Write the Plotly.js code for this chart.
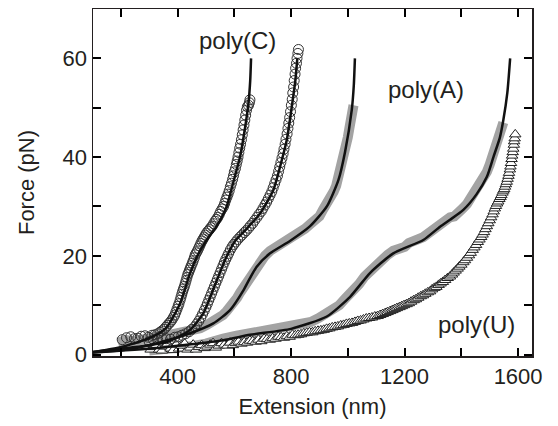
<!DOCTYPE html>
<html>
<head>
<meta charset="utf-8">
<script src="https://cdn.plot.ly/plotly-3.0.1.min.js"></script>
<style>html,body{margin:0;padding:0;background:#fff}#chart{width:558px;height:426px}</style>
</head>
<body>
<div id="chart"></div>
<script>
// ---- poly(C) data (open circles), two molecules ----
const c1X = [205,220,235,248,260,272,285,297,310,320,330,338,345,352,358,364,370,375,380,385,390,394,398,402,405,409,412,415,418,421,424,427,430,433,436,439,442,445,448,452,455,459,462,466,470,474,478,482,486,490,494,498,502,507,512,517,522,527,532,537,542,547,552,557,562,566,570,574,578,582,586,590,594,597,600,604,607,610,613,616,619,622,625,628,631,634,637,640,643,646,650,653,655];
const c1Y = [3.0,3.4,3.6,3.2,3.3,3.7,3.8,3.5,3.9,4.0,4.2,4.5,4.8,5.1,5.5,5.9,6.3,6.6,7.0,7.5,8.0,8.6,9.2,9.8,10.3,11.0,11.6,12.2,12.8,13.3,13.8,14.4,15.0,15.6,16.2,16.6,17.1,17.5,18.0,18.5,19.0,19.6,20.2,20.6,21.0,21.5,22.0,22.5,23.0,23.4,23.8,24.2,24.6,25.0,25.3,25.7,26.0,26.5,27.0,27.4,27.8,28.4,29.0,29.5,30.0,30.6,31.3,31.9,32.5,33.2,34.0,34.7,35.5,36.2,37.0,37.7,38.5,39.2,40.0,40.9,41.8,42.6,43.5,44.5,45.5,46.5,47.5,48.5,49.5,50.2,50.5,51.0,51.6];
const c2X = [300,315,330,345,360,375,390,402,415,428,440,450,460,468,475,482,488,494,500,505,510,515,520,525,530,535,540,545,550,555,560,565,570,575,580,586,592,598,605,612,620,627,635,642,650,657,665,672,680,687,695,701,708,714,720,726,732,737,742,747,752,756,760,764,768,772,775,779,782,786,789,792,795,798,801,804,806,809,811,814,816,819,821,824,826];
const c2Y = [2.6,3.0,3.0,3.3,3.2,3.1,3.5,3.6,3.9,4.2,4.6,5.1,5.6,6.2,6.8,7.5,8.2,8.9,9.6,10.3,11.0,11.7,12.4,13.1,13.8,14.5,15.2,15.9,16.6,17.3,18.0,18.7,19.3,19.9,20.5,21.2,21.8,22.3,22.8,23.3,23.8,24.2,24.7,25.1,25.6,26.1,26.6,27.2,27.8,28.4,29.0,29.6,30.3,30.9,31.6,32.3,33.0,33.8,34.6,35.4,36.2,37.1,38.0,38.9,39.8,40.7,41.6,42.6,43.6,44.7,45.8,46.9,48.0,49.2,50.5,51.7,53.0,54.2,55.5,56.8,58.0,59.0,60.0,61.0,61.8];

// ---- poly(A) data (grey band), two molecules ----
const a1X = [190,220,250,275,300,325,350,375,400,422,444,462,480,503,526,543,560,573,585,598,610,621,632,641,650,658,665,678,690,708,726,743,760,778,796,813,830,849,867,884,900,913,926,938,950,959,967,976,985,993,1000,1006,1012,1016,1020];
const a1Y = [2.4,2.9,2.7,3.1,3.2,3.6,3.7,4.0,3.9,4.3,4.5,4.9,5.3,6.0,6.6,7.4,8.0,8.8,9.5,10.6,11.5,12.6,13.5,14.6,15.5,16.3,17.0,17.8,18.6,20.0,21.0,21.6,22.0,23.0,23.6,24.0,24.3,25.5,26.4,27.0,28.0,29.4,30.5,31.6,33.0,34.2,35.8,37.8,40.0,42.0,44.0,46.0,48.0,49.2,50.5];
const a2X = [300,350,400,450,500,530,561,608,655,693,730,765,800,835,870,898,926,948,970,989,1008,1024,1040,1059,1078,1099,1120,1140,1160,1180,1200,1215,1231,1249,1266,1283,1300,1312,1325,1343,1360,1375,1390,1405,1420,1437,1454,1467,1480,1490,1500,1510,1520,1528,1535,1542,1548];
const a2Y = [0.8,1.0,1.5,1.7,2.2,2.8,3.2,3.8,4.3,4.4,4.8,5.3,5.6,6.0,6.6,7.4,8.2,9.0,10.0,11.2,12.2,13.2,14.3,15.8,17.0,18.0,19.0,20.2,21.0,21.2,21.8,22.6,23.2,23.4,23.8,24.6,25.0,25.8,26.5,27.2,27.8,28.0,28.6,29.6,30.5,32.0,33.5,34.6,35.5,37.0,38.5,40.0,41.5,43.0,44.5,45.8,47.0];

// ---- poly(U) data (open triangles) ----
const uX = [305,315,325,335,345,355,365,375,385,395,405,415,425,435,445,455,465,475,485,495,505,515,525,535,545,555,565,575,585,595,605,615,625,635,645,655,665,675,685,695,705,715,725,735,745,755,765,775,785,795,805,815,825,835,845,855,865,875,885,895,905,915,925,935,945,955,965,975,985,995,1005,1015,1025,1035,1045,1055,1065,1075,1085,1095,1105,1114,1123,1132,1140,1149,1157,1165,1173,1182,1190,1198,1207,1215,1223,1232,1240,1248,1257,1265,1273,1282,1290,1297,1305,1312,1320,1327,1335,1343,1352,1360,1367,1373,1380,1387,1393,1400,1407,1413,1420,1427,1433,1440,1446,1452,1458,1464,1470,1475,1480,1485,1490,1495,1500,1505,1510,1514,1518,1522,1526,1530,1534,1538,1541,1545,1548,1551,1554,1557,1560,1563,1566,1568,1571,1573,1575,1577,1579,1581,1583,1585,1586,1588,1590];
const uY = [1.0,1.5,1.8,1.0,0.8,1.6,2.2,1.2,0.9,2.0,1.2,1.8,2.2,1.0,1.4,2.0,1.0,1.5,1.9,1.3,1.6,2.0,2.3,1.4,1.8,2.3,2.0,1.8,2.4,1.9,2.3,2.6,2.2,2.5,2.4,2.8,2.7,2.6,3.0,2.7,3.2,3.1,3.0,3.3,3.2,3.6,3.5,3.4,3.7,3.6,4.0,3.9,4.0,4.1,4.3,4.4,4.5,4.5,4.7,4.8,4.9,5.0,5.2,5.3,5.5,5.6,5.7,5.9,6.0,6.2,6.3,6.4,6.6,6.8,6.9,7.1,7.3,7.4,7.5,7.7,7.8,8.0,8.2,8.4,8.6,8.8,9.0,9.2,9.4,9.6,9.8,10.0,10.2,10.4,10.7,11.0,11.2,11.5,11.8,12.0,12.3,12.6,12.8,13.2,13.5,13.7,14.1,14.4,14.7,15.1,15.5,15.8,16.2,16.6,17.0,17.4,17.8,18.2,18.7,19.1,19.6,20.1,20.6,21.2,21.7,22.2,22.8,23.3,23.8,24.3,24.8,25.4,26.0,26.6,27.2,27.8,28.4,29.0,29.6,30.1,30.6,31.0,31.5,31.9,32.3,32.8,33.2,33.5,34.0,34.5,35.0,35.6,36.2,36.8,37.5,38.1,38.8,39.6,40.3,41.0,41.7,42.5,43.2,43.8,44.6,45.5];

// ---- model fit curves (black lines) ----
const fC1X = [100,200,300,360,410,444,470,500,538,573,597,620,638,650,656,659];
const fC1Y = [0.5,1.5,3.3,5.4,10.5,16.5,20.0,23.0,26.0,30.0,35.0,40.0,46.0,51.0,55.5,60.0];
const fC2X = [100,200,300,362,444,491,538,570,603,644,691,738,761,785,802,815,822];
const fC2Y = [0.5,1.2,1.9,2.5,5.0,8.4,15.0,19.5,23.0,25.5,28.6,33.4,38.0,43.5,50.0,55.5,60.0];
const fA1X = [100,209,327,444,526,585,632,660,679,726,796,867,926,967,990,1014,1021,1025];
const fA1Y = [0.4,0.9,2.3,4.3,6.3,9.0,13.0,16.0,17.8,20.5,23.0,26.0,30.0,35.4,41.0,49.6,54.5,60.0];
const fA2X = [100,327,561,655,800,926,1008,1078,1160,1266,1325,1360,1407,1454,1490,1513,1536,1548,1562,1572];
const fA2Y = [0.4,1.3,2.9,4.0,5.2,7.7,11.7,16.5,20.5,23.2,25.9,27.3,29.3,32.5,36.0,40.0,44.0,47.5,53.0,60.0];

// ---- axis ticks and labels ----
const xTickVals = [200,400,600,800,1000,1200,1400,1600];
const xTickText = ['','400','','800','','1200','','1600'];
const yTickVals = [0,10,20,30,40,50,60];
const yTickText = ['0','','20','','40','','60'];
const labelText = ['poly(C)','poly(A)','poly(U)'];
const labelX = [612,1276,1452];
const labelY = [63.6,53.6,6.0];

const ink = '#231f20';
const font = 'Liberation Sans, Arial, Helvetica, sans-serif';

const traces = [
  {x:a1X, y:a1Y, mode:'lines', line:{color:'#a3a3a3', width:10}, hoverinfo:'skip'},
  {x:a2X, y:a2Y, mode:'lines', line:{color:'#a3a3a3', width:10}, hoverinfo:'skip'},
  {x:uX, y:uY, mode:'markers', marker:{symbol:'triangle-up', size:10, color:'#ffffff', line:{color:'#222', width:1}}},
  {x:c1X, y:c1Y, mode:'markers', marker:{symbol:'circle-open', size:10, color:'#333', line:{width:1}}},
  {x:c2X, y:c2Y, mode:'markers', marker:{symbol:'circle-open', size:10, color:'#333', line:{width:1}}},
  {x:fC1X, y:fC1Y, mode:'lines', line:{color:'#111', width:2.5, shape:'spline', smoothing:0.6}},
  {x:fC2X, y:fC2Y, mode:'lines', line:{color:'#111', width:2.5, shape:'spline', smoothing:0.6}},
  {x:fA1X, y:fA1Y, mode:'lines', line:{color:'#111', width:2.5, shape:'spline', smoothing:0.6}},
  {x:fA2X, y:fA2Y, mode:'lines', line:{color:'#111', width:2.5, shape:'spline', smoothing:0.6}}
];

const annotations = labelText.map((t,i)=>({
  x:labelX[i], y:labelY[i], xref:'x', yref:'y', text:t, showarrow:false,
  font:{family:font, size:24, color:ink}
}));

const layout = {
  width:558, height:426,
  margin:{l:93, r:26, t:9, b:70, pad:0},
  paper_bgcolor:'#fff', plot_bgcolor:'#fff',
  showlegend:false,
  font:{family:font, size:22, color:ink},
  xaxis:{
    range:[102,1649], showgrid:false, zeroline:false,
    showline:true, linecolor:ink, linewidth:1.5, mirror:'allticks',
    ticks:'inside', ticklen:8, tickwidth:2, tickcolor:'#000',
    tickvals:xTickVals, ticktext:xTickText, tickfont:{size:22},
    title:{text:'Extension (nm)', font:{size:22}, standoff:10}
  },
  yaxis:{
    range:[-0.3,70], showgrid:false, zeroline:false,
    showline:true, linecolor:ink, linewidth:1.5, mirror:'allticks',
    ticks:'inside', ticklen:8, tickwidth:2, tickcolor:'#000',
    tickvals:yTickVals, ticktext:yTickText, tickfont:{size:22},
    title:{text:'Force (pN)', font:{size:22}, standoff:22}
  },
  annotations:annotations
};

Plotly.newPlot('chart', traces, layout, {staticPlot:true, displayModeBar:false});
</script>
</body>
</html>
